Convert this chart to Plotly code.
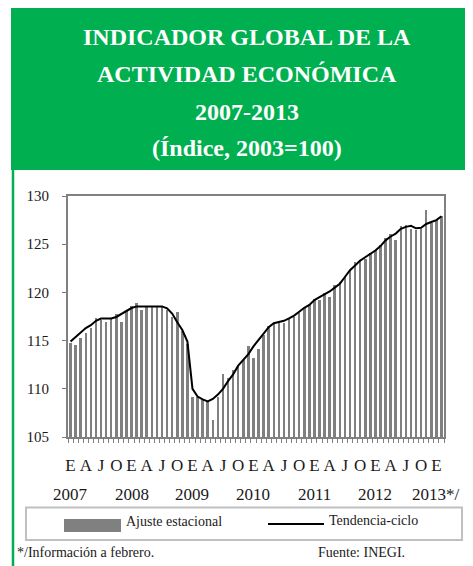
import plotly.graph_objects as go

# ── data: IGAE, enero 2007 – febrero 2013 (índice 2003=100) ──────────────────
ajuste_estacional = [
    114.8, 114.5, 115.3, 115.8, 116.3, 117.3, 117.1, 116.9, 117.2, 117.8, 116.9, 118.1,   # 2007
    118.55, 118.9, 118.2, 118.45, 118.45, 118.45, 118.45, 118.2, 117.4, 118.0, 116.0, 114.6,  # 2008
    109.2, 109.1, 108.9, 108.7, 106.8, 109.1, 111.5, 111.1, 111.9, 112.3, 113.0, 114.4,   # 2009
    113.2, 114.1, 115.6, 116.5, 116.8, 116.8, 116.8, 117.2, 117.4, 117.9, 118.4, 118.7,   # 2010
    119.3, 119.2, 119.9, 119.5, 120.8, 121.1, 121.7, 122.35, 123.2, 123.3, 123.5, 124.1,  # 2011
    124.4, 124.9, 125.6, 126.1, 125.4, 126.9, 127.0, 126.6, 126.5, 126.6, 128.5, 127.2,   # 2012
    127.5, 127.9,                                                                        # 2013
]
tendencia_ciclo = [
    114.9, 115.35, 115.9, 116.3, 116.6, 117.05, 117.28, 117.28, 117.3, 117.45, 117.77, 118.1,
    118.38, 118.55, 118.55, 118.55, 118.55, 118.55, 118.55, 118.35, 117.8, 116.9, 116.1, 114.9,
    110.0, 109.2, 108.9, 108.7, 108.95, 109.4, 110.0, 110.8, 111.5, 112.4, 113.0, 113.6,
    114.4, 115.1, 115.8, 116.4, 116.8, 116.95, 117.05, 117.3, 117.6, 118.0, 118.4, 118.7,
    119.2, 119.5, 119.8, 120.1, 120.5, 120.9, 121.6, 122.3, 122.8, 123.3, 123.65, 124.0,
    124.35, 124.8, 125.4, 125.8, 126.1, 126.6, 126.8, 126.9, 126.65, 126.7, 127.1, 127.3,
    127.5, 127.9,
]
month_letters = ["E", "A", "J", "O"]          # enero, abril, julio, octubre
year_labels = ["2007", "2008", "2009", "2010", "2011", "2012", "2013*/"]
title_lines = ["INDICADOR GLOBAL DE LA", "ACTIVIDAD ECONÓMICA", "2007-2013", "(Índice, 2003=100)"]

# the page body has an 8px margin, so the figure is 8px smaller and all
# positions below are given in page pixels
OFF = 8
PAGE_W, PAGE_H = 473, 566
PLOT_X0, PLOT_X1, PLOT_Y0, PLOT_Y1 = 68, 444, 196, 437
W, H = PAGE_W - OFF, PAGE_H - OFF
L, R = PLOT_X0 - OFF, PAGE_W - PLOT_X1
T, B = PLOT_Y0 - OFF, PAGE_H - PLOT_Y1
PW, PH = PLOT_X1 - PLOT_X0, PLOT_Y1 - PLOT_Y0
GREEN = "#00B050"
GRAY = "#808080"
SERIF = "Liberation Serif, DejaVu Serif, serif"


def px(x):   # page pixel -> paper x
    return (x - PLOT_X0) / PW


def py(y):   # page pixel -> paper y
    return (PLOT_Y1 - y) / PH


idx = list(range(len(ajuste_estacional)))
tick_pos = idx[::3]
tick_txt = [month_letters[i % 4] for i in range(len(tick_pos))]

fig = go.Figure()
fig.add_trace(go.Bar(
    x=idx, y=ajuste_estacional, name="Ajuste estacional",
    marker=dict(color=GRAY, line=dict(width=0)), width=0.5,
    hovertemplate="%{y:.1f}<extra>Ajuste estacional</extra>",
))
fig.add_trace(go.Scatter(
    x=idx, y=tendencia_ciclo, mode="lines", name="Tendencia-ciclo",
    line=dict(color="#000000", width=2),
    hovertemplate="%{y:.1f}<extra>Tendencia-ciclo</extra>",
))

shapes = [
    # green header block + left rule
    dict(type="rect", xref="paper", yref="paper", x0=px(11), x1=px(473), y0=py(170), y1=py(8),
         fillcolor=GREEN, line=dict(width=0), layer="below"),
    dict(type="line", xref="paper", yref="paper", x0=px(13), x1=px(13), y0=py(170), y1=py(566),
         line=dict(color=GREEN, width=2.5)),
    # legend box
    dict(type="rect", xref="paper", yref="paper", x0=px(26), x1=px(462), y0=py(540), y1=py(507.5),
         line=dict(color="#c0c0c0", width=2), fillcolor="rgba(0,0,0,0)"),
    dict(type="rect", xref="paper", yref="paper", x0=px(64), x1=px(121), y0=py(532), y1=py(519),
         fillcolor=GRAY, line=dict(width=0)),
    dict(type="line", xref="paper", yref="paper", x0=px(268), x1=px(324), y0=py(524), y1=py(524),
         line=dict(color="#000000", width=2)),
]

annotations = []
for text, yc in zip(title_lines, [37, 74, 112, 148]):
    annotations.append(dict(
        text=f"<b>{text}</b>", xref="paper", yref="paper", x=px(247), y=py(yc),
        xanchor="center", yanchor="middle", showarrow=False,
        font=dict(family=SERIF, size=24, color="#ffffff"),
    ))
for i, yl in enumerate(year_labels):
    annotations.append(dict(
        text=yl, xref="x", yref="paper", x=i * 12, y=py(494),
        xanchor="center", yanchor="middle", showarrow=False,
        font=dict(family=SERIF, size=17, color="#1a1a1a"),
    ))
for text, xl, yc in [("Ajuste estacional", 124, 521), ("Tendencia-ciclo", 327, 520),
                     ("*/Información a febrero.", 15, 552), ("Fuente: INEGI.", 316, 552)]:
    annotations.append(dict(
        text=text, xref="paper", yref="paper", x=px(xl), y=py(yc),
        xanchor="left", yanchor="middle", showarrow=False,
        font=dict(family=SERIF, size=14, color="#1a1a1a"),
    ))

fig.update_layout(
    width=W, height=H,
    margin=dict(l=L, r=R, t=T, b=B),
    paper_bgcolor="#ffffff", plot_bgcolor="#ffffff",
    showlegend=False, bargap=0,
    font=dict(family=SERIF, color="#1a1a1a"),
    shapes=shapes, annotations=annotations,
    xaxis=dict(
        range=[-0.5, len(idx) - 0.5], showgrid=False, zeroline=False,
        showline=True, linecolor=GRAY, linewidth=2, mirror=True,
        tickmode="array", tickvals=tick_pos, ticktext=tick_txt, ticks="",
        tickfont=dict(family=SERIF, size=17, color="#1a1a1a"), ticklabelstandoff=12,
        minor=dict(tickmode="array", tickvals=[k - 0.5 for k in range(len(idx) + 1)],
                   ticks="outside", ticklen=4, tickcolor=GRAY, tickwidth=1),
    ),
    yaxis=dict(
        range=[105, 130], dtick=5, showgrid=False, zeroline=False,
        showline=True, linecolor=GRAY, linewidth=2, mirror=True,
        ticks="outside", ticklen=4, tickcolor=GRAY,
        tickfont=dict(family=SERIF, size=15, color="#1a1a1a"), ticklabelstandoff=10,
    ),
)

fig.write_html("out.html")
